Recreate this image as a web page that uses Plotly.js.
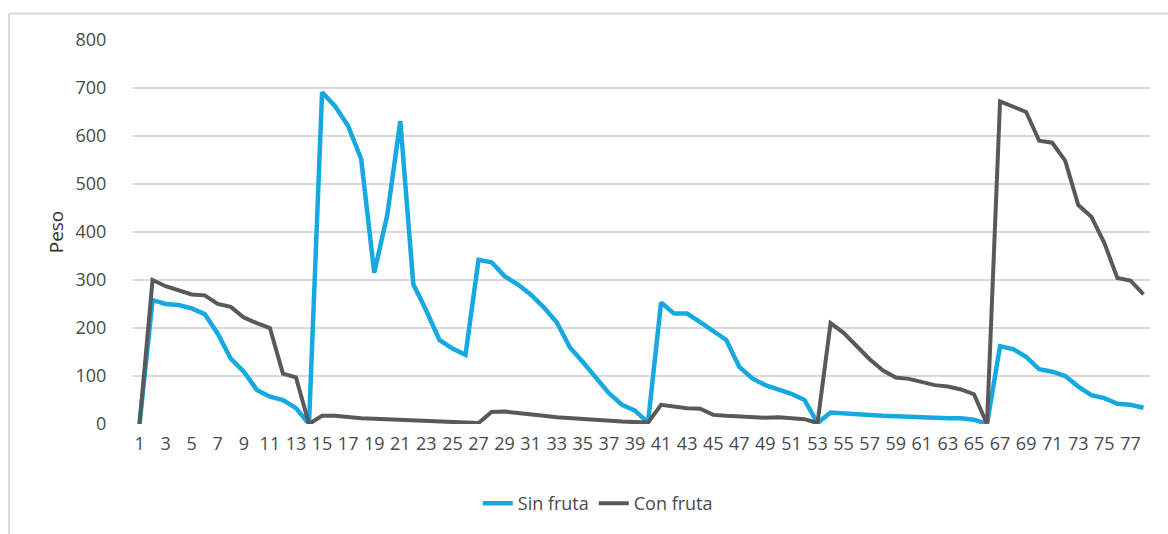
<!DOCTYPE html>
<html>
<head>
<meta charset="utf-8">
<script src="https://cdn.plot.ly/plotly-3.0.1.min.js"></script>
<style>
  html, body { margin: 0; padding: 0; background: #ffffff; }
  #chart { width: 1168px; height: 534px; }
</style>
</head>
<body>
<div id="chart"></div>
<script>
// Categories 1..78
const categories = [
  1,2,3,4,5,6,7,8,9,10,11,12,13,14,15,16,17,18,19,20,
  21,22,23,24,25,26,27,28,29,30,31,32,33,34,35,36,37,38,39,40,
  41,42,43,44,45,46,47,48,49,50,51,52,53,54,55,56,57,58,59,60,
  61,62,63,64,65,66,67,68,69,70,71,72,73,74,75,76,77,78
];

const sinFruta = [
  0,258,250,248,241,229,188,136,109,71,57,50,33,0,
  691,662,621,552,315,435,631,291,236,175,157,144,
  342,337,308,291,270,243,212,160,129,95,64,40,28,3,
  253,230,230,212,194,175,119,95,81,72,63,50,2,
  24,23,20,19,17,16,14,12,12,12,12,9,0,
  162,156,140,114,109,100,78,60,54,42,40,34
];

const conFruta = [
  0,300,287,279,270,268,250,244,222,210,200,105,97,0,
  17,17,14,12,11,10,9,8,7,7,5,4,2,
  25,26,23,19,17,14,12,9,8,6,5,4,3,
  40,36,33,32,19,17,15,13,13,14,12,10,2,
  210,190,162,135,112,97,94,87,81,78,72,62,0,
  672,662,650,590,586,548,456,432,377,304,299,270
];

const tickVals = categories.filter(c => c % 2 === 1);
const tickText = tickVals.map(String);
const yTicks = [0,100,200,300,400,500,600,700,800];

const fontFam = '"Open Sans", "Liberation Sans", sans-serif';
const textColor = '#4a4a4a';

const traces = [
  {
    x: categories, y: sinFruta, name: 'Sin fruta', type: 'scatter', mode: 'lines',
    line: { color: '#16a9e1', width: 4.5 }
  },
  {
    x: categories, y: conFruta, name: 'Con fruta', type: 'scatter', mode: 'lines',
    line: { color: '#595959', width: 4 }
  }
];

const layout = {
  width: 1168, height: 534,
  margin: { l: 133, r: 18, t: 40, b: 106, pad: 0 },
  paper_bgcolor: '#ffffff', plot_bgcolor: '#ffffff',
  font: { family: fontFam, size: 18, color: textColor },
  showlegend: true,
  legend: {
    orientation: 'h', x: 0.457, xanchor: 'center', y: -0.207, yanchor: 'middle',
    font: { family: fontFam, size: 18, color: textColor },
    itemwidth: 30, tracegroupgap: 0
  },
  xaxis: {
    range: [0.5, 78.5], tickmode: 'array', tickvals: tickVals, ticktext: tickText,
    tickangle: 0, showgrid: false, zeroline: false, showline: false,
    ticks: 'outside', ticklen: 3, tickcolor: 'rgba(0,0,0,0)',
    tickfont: { family: fontFam, size: 18, color: textColor }, fixedrange: true
  },
  yaxis: {
    range: [0, 800], tickmode: 'array', tickvals: yTicks,
    showgrid: true, gridcolor: '#d9d9d9', gridwidth: 1.5, zeroline: false, showline: false,
    ticks: 'outside', ticklen: 22, tickcolor: 'rgba(0,0,0,0)',
    tickfont: { family: fontFam, size: 18, color: textColor },
    title: { text: 'Peso', font: { family: fontFam, size: 19, color: '#333333' }, standoff: 6 },
    fixedrange: true
  },
  shapes: [
    { type: 'line', xref: 'paper', yref: 'paper', x0: -0.1219, x1: 1.02, y0: 1.0688, y1: 1.0688,
      line: { color: '#d9d9d9', width: 2 } },
    { type: 'line', xref: 'paper', yref: 'paper', x0: -0.1219, x1: -0.1219, y0: 1.0688, y1: -0.3,
      line: { color: '#d9d9d9', width: 2 } }
  ]
};

Plotly.newPlot('chart', traces, layout, { displayModeBar: false, staticPlot: true });
</script>
</body>
</html>
